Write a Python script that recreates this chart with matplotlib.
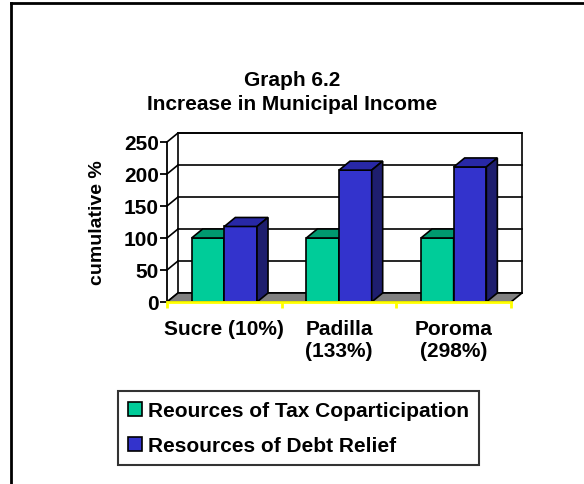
import matplotlib.pyplot as plt
from matplotlib.patches import Polygon, Patch
from matplotlib.lines import Line2D
import numpy as np

plt.rcParams['font.family'] = ['Liberation Sans', 'DejaVu Sans']
plt.rcParams['font.weight'] = 'bold'

categories = ['Sucre (10%)', 'Padilla\n(133%)', 'Poroma\n(298%)']
tax_copart = [100, 100, 100]
debt_relief = [118, 206, 211]
series_names = ['Reources of Tax Coparticipation', 'Resources of Debt Relief']
yticks = [0, 50, 100, 150, 200, 250]

FS = 15
W, H = 584, 485
fig = plt.figure(figsize=(W / 100, H / 100), dpi=100)

# front plane of the 3d box
ax = fig.add_axes([167 / W, (H - 303) / H, 344 / W, 160 / H])
ax.set_xlim(-0.5, 2.5)
ax.set_ylim(0, 250)

# depth offset of the box, in data units
DX = 11 / (344 / 3)
DY = 9 / (160 / 250)

x = np.arange(len(categories))
w = 0.285

# back wall and gridlines
wall = Polygon([(-0.5 + DX, DY), (2.5 + DX, DY), (2.5 + DX, 250 + DY), (-0.5 + DX, 250 + DY)],
               closed=True, facecolor='white', edgecolor='black', lw=1.2, clip_on=False, zorder=1)
ax.add_patch(wall)
for v in yticks:
    ax.plot([-0.5 + DX, 2.5 + DX], [v + DY, v + DY], color='black', lw=1.2, clip_on=False, zorder=1)
    ax.plot([-0.5, -0.5 + DX], [v, v + DY], color='black', lw=1.2, clip_on=False, zorder=1)

# floor
floor = Polygon([(-0.5, 0), (2.5, 0), (2.5 + DX, DY), (-0.5 + DX, DY)],
                closed=True, facecolor='#808080', edgecolor='black', lw=1.2, clip_on=False, zorder=2)
ax.add_patch(floor)


def bar3d(x0, val, front, top, side):
    x1 = x0 + w
    ax.bar(x0, val, w, align='edge', color=front, edgecolor='black', lw=1.2, zorder=3)
    ax.add_patch(Polygon([(x0, val), (x1, val), (x1 + DX, val + DY), (x0 + DX, val + DY)],
                         closed=True, facecolor=top, edgecolor='black', lw=1.2, clip_on=False, zorder=3))
    ax.add_patch(Polygon([(x1, 0), (x1 + DX, DY), (x1 + DX, val + DY), (x1, val)],
                         closed=True, facecolor=side, edgecolor='black', lw=1.2, clip_on=False, zorder=3))


for i in range(len(categories)):
    bar3d(x[i] - w, tax_copart[i], '#00CC99', '#00996F', '#006B4F')
    bar3d(x[i], debt_relief[i], '#3333CC', '#2828A6', '#1E1E6E')

# axes
for s in ['top', 'right']:
    ax.spines[s].set_visible(False)
ax.spines['left'].set_linewidth(1.3)
ax.spines['left'].set_zorder(4)
ax.spines['bottom'].set_color('#FFFF00')
ax.spines['bottom'].set_linewidth(2)
ax.spines['bottom'].set_zorder(4)

ax.set_yticks(yticks)
ax.set_yticklabels([str(v) for v in yticks], fontsize=FS, fontweight='bold')
ax.tick_params(axis='y', direction='out', length=5, width=1.3, pad=1)

ax.set_xticks([-0.5, 0.5, 1.5, 2.5])
ax.set_xticklabels([])
ax.tick_params(axis='x', which='major', direction='out', length=4, width=2, color='#FFFF00')
ax.set_xticks(x, minor=True)
ax.set_xticklabels(categories, minor=True, fontsize=FS, fontweight='bold', linespacing=1.2)
ax.tick_params(axis='x', which='minor', length=0, pad=12)

fig.text(97 / W, 1 - 223 / H, 'cumulative %', rotation=90, ha='center', va='center',
         fontsize=14, fontweight='bold')

fig.text(292 / W, 1 - 81 / H, 'Graph 6.2', ha='center', va='center', fontsize=FS, fontweight='bold')
fig.text(292 / W, 1 - 104 / H, 'Increase in Municipal Income', ha='center', va='center',
         fontsize=FS, fontweight='bold')

handles = [Patch(facecolor='#00CC99', edgecolor='black', lw=1.2),
           Patch(facecolor='#3333CC', edgecolor='black', lw=1.2)]
leg = fig.legend(handles, series_names, loc='upper left', bbox_to_anchor=(118 / W, 1 - 392 / H),
                 prop={'weight': 'bold', 'size': FS}, frameon=True, fancybox=False,
                 handlelength=0.67, handleheight=0.67, handletextpad=0.25, labelspacing=0.75,
                 borderpad=0.5, borderaxespad=0)
leg.get_frame().set_edgecolor('black')
leg.get_frame().set_linewidth(1.5)

# outer chart border (left and top edges visible)
fig.add_artist(Line2D([11 / W, 11 / W], [0, 1 - 4 / H], color='black', lw=2))
fig.add_artist(Line2D([11 / W, 1], [1 - 4 / H, 1 - 4 / H], color='black', lw=2))

fig.savefig('out.png', dpi=100)
